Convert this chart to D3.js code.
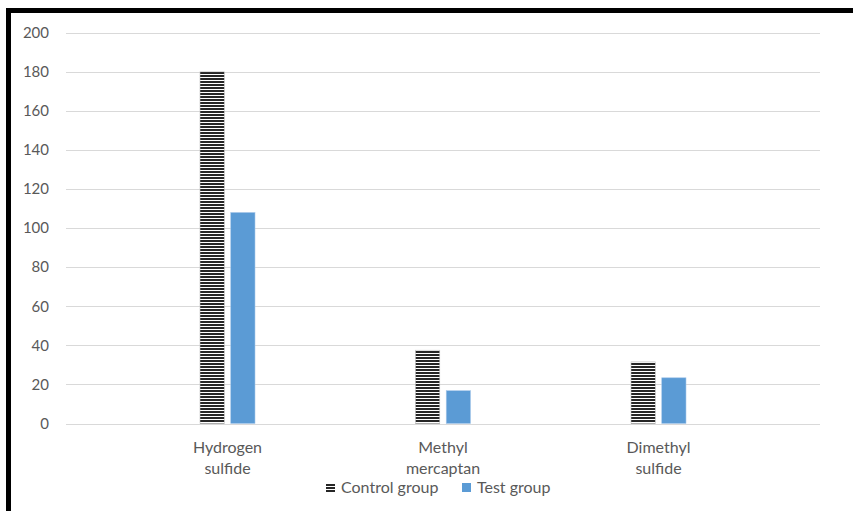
<!DOCTYPE html>
<html>
<head>
<meta charset="utf-8">
<script src="https://cdn.jsdelivr.net/npm/d3@7/dist/d3.min.js"></script>
<style>
  html, body { margin: 0; padding: 0; background: #fff; }
  svg { display: block; }
  text { font-family: Lato, "Open Sans", sans-serif; fill: #595959; }
</style>
</head>
<body>
<svg id="chart" width="853" height="511"></svg>
<script>
// Sulfur compound levels by group
const categories = [["Hydrogen", "sulfide"], ["Methyl", "mercaptan"], ["Dimethyl", "sulfide"]];
const seriesNames = ["Control group", "Test group"];
const controlValues = [180, 37.5, 31.5];
const testValues = [108, 16.8, 23.4];
const yTicks = [0, 20, 40, 60, 80, 100, 120, 140, 160, 180, 200];

const svg = d3.select("#chart");
const W = 853, H = 511;

// hatch fill for the control series
const defs = svg.append("defs");
const pat = defs.append("pattern")
  .attr("id", "hatch")
  .attr("patternUnits", "userSpaceOnUse")
  .attr("width", 6).attr("height", 3);
pat.append("rect").attr("width", 6).attr("height", 3).attr("fill", "#fff");
pat.append("rect").attr("width", 6).attr("height", 2).attr("fill", "#262626");

// outer frame (thick black edge on top and left)
svg.append("rect")
  .attr("x", 8.5).attr("y", 10.5)
  .attr("width", W + 20).attr("height", H + 20)
  .attr("fill", "none").attr("stroke", "#000").attr("stroke-width", 5);

const gridX0 = 66, gridX1 = 820;
const y = d3.scaleLinear().domain([0, 200]).range([423.5, 32.7]);

const keys = categories.map(c => c.join(" "));
const x = d3.scaleBand().domain(keys).range([119.75, 766.25]).padding(0);
const groupW = 55;
const inner = d3.scaleBand().domain(seriesNames).range([0, groupW]).paddingInner(0.21);
const groupOffset = (x.bandwidth() - groupW) / 2;

// gridlines
svg.append("g").selectAll("line").data(yTicks).join("line")
  .attr("x1", gridX0).attr("x2", gridX1)
  .attr("y1", d => Math.round(y(d)) + 0.5).attr("y2", d => Math.round(y(d)) + 0.5)
  .attr("stroke", "#d9d9d9").attr("stroke-width", 1);

// y axis labels
const yAxis = d3.axisLeft(y).tickValues(yTicks).tickSize(0).tickPadding(0);
const ya = svg.append("g").attr("transform", "translate(49,0)").call(yAxis);
ya.select(".domain").remove();
ya.selectAll("text")
  .attr("font-size", 15)
  .attr("font-family", "Lato, 'Open Sans', sans-serif")
  .attr("fill", "#595959");

// bars
const rows = keys.map((k, i) => ({ key: k, values: [controlValues[i], testValues[i]] }));
const groups = svg.append("g").selectAll("g").data(rows).join("g")
  .attr("transform", d => `translate(${x(d.key) + groupOffset},0)`);
groups.selectAll("rect").data(d => d.values.map((v, j) => ({ s: seriesNames[j], v })))
  .join("rect")
  .attr("x", d => inner(d.s))
  .attr("y", d => y(d.v))
  .attr("width", inner.bandwidth())
  .attr("height", d => y(0) - y(d.v))
  .attr("fill", d => d.s === "Control group" ? "url(#hatch)" : "#5b9bd5")
  .attr("stroke", d => d.s === "Control group" ? "#bfbfbf" : "#a9c9ea")
  .attr("stroke-width", 0.6);

// category labels
const cl = svg.append("g").selectAll("text").data(categories).join("text")
  .attr("x", (d, i) => x(keys[i]) + x.bandwidth() / 2)
  .attr("y", 453)
  .attr("text-anchor", "middle")
  .attr("font-size", 16);
cl.selectAll("tspan").data(d => d).join("tspan")
  .attr("x", function () { return d3.select(this.parentNode).attr("x"); })
  .attr("dy", (d, i) => i === 0 ? 0 : 21)
  .text(d => d);

// legend
const legend = svg.append("g").attr("transform", "translate(0,487)");
const legItems = [
  { name: seriesNames[0], fill: "url(#hatch)", sx: 326, tx: 341 },
  { name: seriesNames[1], fill: "#5b9bd5", sx: 462, tx: 477 }
];
legItems.forEach(it => {
  legend.append("rect")
    .attr("x", it.sx).attr("y", -4).attr("width", 9).attr("height", 9)
    .attr("fill", it.fill);
  legend.append("text")
    .attr("x", it.tx).attr("y", 0).attr("dy", "0.35em")
    .attr("font-size", 16)
    .text(it.name);
});
</script>
</body>
</html>
